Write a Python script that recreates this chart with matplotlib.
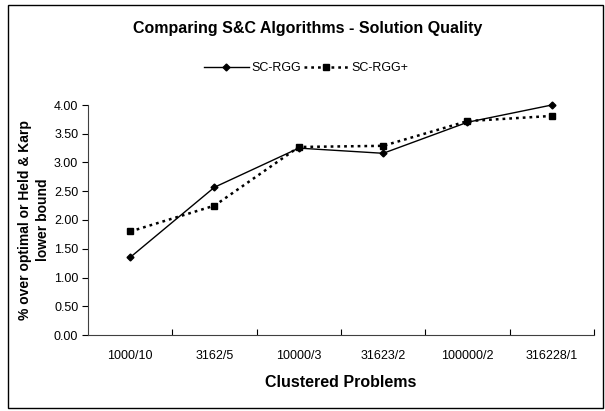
import matplotlib
matplotlib.use("Agg")
import matplotlib.pyplot as plt
from matplotlib.patches import Rectangle

categories = ["1000/10", "3162/5", "10000/3", "31623/2", "100000/2", "316228/1"]
sc_rgg = [1.35, 2.57, 3.25, 3.16, 3.70, 4.00]
sc_rgg_plus = [1.80, 2.25, 3.27, 3.29, 3.72, 3.81]
yticks = [0.0, 0.5, 1.0, 1.5, 2.0, 2.5, 3.0, 3.5, 4.0]

plt.rcParams['font.family'] = ['Liberation Sans', 'DejaVu Sans']

W, H = 605, 411
fig = plt.figure(figsize=(W / 100, H / 100), dpi=100)
fig.patch.set_facecolor("white")

# outer chart border
fig.add_artist(Rectangle((8 / W, 1 - 408 / H), (603 - 8) / W, (408 - 5) / H,
                         transform=fig.transFigure, fill=False,
                         edgecolor="black", linewidth=1.0))

x0, x1 = 88, 594
y0, y1 = 105, 335
ax = fig.add_axes([x0 / W, 1 - y1 / H, (x1 - x0) / W, (y1 - y0) / H])

xs = list(range(len(categories)))
l1, = ax.plot(xs, sc_rgg, color="black", linewidth=1.0, marker="D", markersize=3.5,
              label="SC-RGG", clip_on=False)
l2, = ax.plot(xs, sc_rgg_plus, color="black", linewidth=1.8, linestyle=(0, (1.1, 1.6)),
              marker="s", markersize=5, label="SC-RGG+", clip_on=False)

ax.set_xlim(-0.5, len(categories) - 0.5)
ax.set_ylim(0, 4.0)
ax.set_yticks(yticks)
ax.set_yticklabels([f"{v:.2f}" for v in yticks], fontsize=9)

# category boundary ticks
ax.set_xticks([i + 0.5 for i in range(len(categories) - 1)] + [len(categories) - 0.5])
ax.set_xticklabels([])
ax.set_xticks(xs, minor=True)
ax.set_xticklabels(categories, minor=True, fontsize=9)
ax.tick_params(axis="x", which="minor", length=0, pad=11)
ax.tick_params(axis="x", which="major", length=4, direction="in", width=0.8)
ax.tick_params(axis="y", length=4, direction="out", width=0.8, pad=3)

for s in ["top", "right"]:
    ax.spines[s].set_visible(False)
for s in ["left", "bottom"]:
    ax.spines[s].set_linewidth(0.8)
    ax.spines[s].set_color("#404040")

ax.set_xlabel("Clustered Problems", fontsize=11.5, fontweight="bold", labelpad=9)
ax.set_ylabel("% over optimal or Held & Karp\nlower bound", fontsize=10,
              fontweight="bold", labelpad=3, linespacing=1.35)

fig.text(308 / W, 1 - 29 / H, "Comparing S&C Algorithms - Solution Quality",
         ha="center", va="center", fontsize=11.5, fontweight="bold")

fig.legend(handles=[l1, l2], loc="center", bbox_to_anchor=(306 / W, 1 - 68 / H),
           ncol=2, frameon=False, fontsize=9, handlelength=3.6, handletextpad=0.2,
           columnspacing=0.2, borderpad=0.2)

fig.savefig("out.png", dpi=100, facecolor="white")
